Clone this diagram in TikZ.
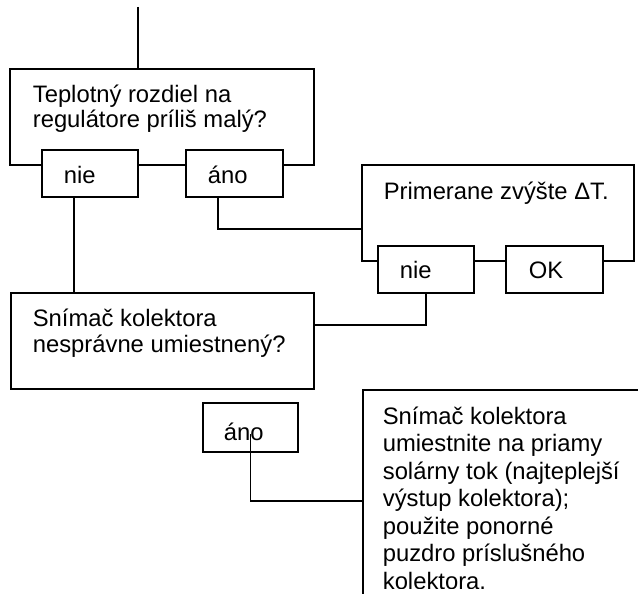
\documentclass[tikz,border=0pt]{standalone}
\usepackage{fontspec}
\setmainfont{Liberation Sans}
\begin{document}
\begin{tikzpicture}[x=1pt, y=-1pt, line width=1.7pt,
  box/.style={draw, fill=white, rectangle, inner sep=0pt},
  txt/.style={anchor=base west, align=left, inner sep=0pt, font=\fontsize{23.8}{26}\selectfont}]
\useasboundingbox (0,0) rectangle (638,594);
\clip (0,0) rectangle (638,594);

% Otázka 1
\node[box, minimum width=304, minimum height=96] (otazka1) at (162,117) {};
\node[txt, font=\fontsize{23.8}{25}\selectfont] (t1) at (32,127.7) {Teplotný rozdiel na\\regulátore príliš malý?};
\node[box, minimum width=96, minimum height=47] (nie1) at (90,173.5) {};
\node[txt] at (63,183) {nie};
\node[box, minimum width=97, minimum height=47] (ano1) at (234.5,173.5) {};
\node[txt] at (207,183) {áno};

% Opatrenie 1
\node[box, minimum width=272, minimum height=96] (opatrenie1) at (498,213) {};
\node[txt] (t2) at (383,199.3) {Primerane zvýšte ΔT.};
\node[box, minimum width=96, minimum height=47] (nie2) at (426,269.5) {};
\node[txt] at (399,278) {nie};
\node[box, minimum width=97, minimum height=47] (ok) at (554.5,269.5) {};
\node[txt] at (528,278) {OK};

% Otázka 2
\node[box, minimum width=303, minimum height=96] (otazka2) at (162.5,341) {};
\node[txt, font=\fontsize{23.8}{26.7}\selectfont] (t3) at (32,352.7) {Snímač kolektora\\nesprávne umiestnený?};
\node[box, minimum width=95, minimum height=49] (ano2) at (250.5,427.5) {};
\node[txt] at (223,440) {áno};

% Opatrenie 2
\node[box, minimum width=282, minimum height=230] (opatrenie2) at (504,505) {};
\begin{scope}
\clip (0,0) rectangle (638,588);
\node[txt, font=\fontsize{23.8}{27.5}\selectfont] (t4) at (382,589) {Snímač kolektora\\umiestnite na priamy\\solárny tok (najteplejší\\výstup kolektora);\\použite ponorné\\puzdro príslušného\\kolektora.};
\end{scope}

% Spojenia
\coordinate (vstup) at (138,7);
\draw (vstup) -- (vstup |- otazka1.north);
\draw ([xshift=-16pt]nie1.south) -- ([xshift=-16pt]nie1.south |- otazka2.north);
\draw ([xshift=-16.5pt]ano1.south) |- ([yshift=-16pt]opatrenie1.west);
\draw (nie2.south) |- ([yshift=16pt]otazka2.east);
\draw ([yshift=-6.5pt]ano2.center) |- ([yshift=4pt]opatrenie2.west);
\end{tikzpicture}
\end{document}
